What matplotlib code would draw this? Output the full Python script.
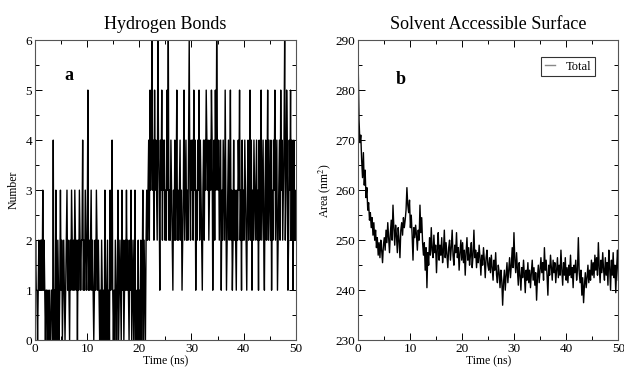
import numpy as np
import matplotlib
matplotlib.use("Agg")
import matplotlib.pyplot as plt
from matplotlib.ticker import MultipleLocator

plt.rcParams["font.family"] = ["Liberation Serif", "DejaVu Serif"]
plt.rcParams["mathtext.fontset"] = "stix"

# ── data ────────────────────────────────────────────────────────────────────

hbond_counts = [
    1, 2, 1, 1, 0, 1, 2, 1, 1, 2, 2, 1, 3, 1, 2, 1, 0, 1, 1, 0,
    1, 0, 1, 0, 0, 1, 1, 0, 4, 0, 1, 0, 3, 1, 0, 2, 1, 0, 1, 3,
    1, 2, 0, 1, 2, 1, 0, 1, 2, 3, 1, 2, 1, 0, 2, 1, 3, 2, 1, 2,
    1, 3, 2, 1, 2, 0, 2, 1, 3, 2, 1, 2, 2, 4, 1, 2, 1, 3, 2, 1,
    2, 5, 1, 2, 1, 2, 3, 1, 2, 1, 0, 1, 2, 1, 3, 2, 1, 2, 1, 0,
    1, 0, 2, 1, 0, 1, 0, 3, 1, 0, 1, 2, 0, 1, 0, 3, 1, 2, 4, 1,
    0, 1, 0, 2, 1, 0, 1, 3, 0, 1, 2, 1, 0, 3, 1, 2, 0, 1, 2, 1,
    3, 1, 2, 1, 0, 2, 1, 3, 0, 1, 2, 0, 1, 3, 0, 0, 1, 0, 2, 0,
    1, 0, 2, 0, 1, 3, 0, 2, 1, 0, 2, 3, 2, 3, 4, 2, 5, 3, 4, 6,
    3, 4, 2, 5, 3, 4, 3, 2, 6, 4, 3, 1, 4, 3, 5, 2, 4, 3, 4, 2,
    3, 2, 5, 3, 6, 2, 3, 2, 4, 3, 2, 1, 3, 2, 4, 2, 3, 5, 2, 3,
    2, 3, 4, 2, 3, 1, 2, 3, 5, 2, 3, 4, 2, 3, 2, 4, 6, 3, 2, 4,
    3, 4, 2, 5, 3, 4, 1, 3, 2, 4, 3, 5, 2, 4, 3, 2, 1, 3, 4, 2,
    4, 3, 5, 4, 3, 4, 2, 3, 4, 3, 5, 4, 1, 3, 4, 2, 5, 3, 6, 4,
    3, 4, 2, 3, 4, 1, 3, 2, 4, 3, 2, 5, 3, 1, 2, 3, 4, 2, 3, 5,
    2, 3, 1, 2, 4, 2, 3, 2, 1, 3, 2, 4, 3, 5, 2, 3, 1, 4, 2, 3,
    2, 4, 3, 2, 1, 3, 4, 2, 3, 5, 2, 4, 1, 3, 2, 4, 3, 2, 3, 4,
    2, 3, 1, 4, 2, 3, 5, 2, 3, 4, 2, 1, 3, 4, 2, 3, 5, 2, 4, 3,
    2, 4, 1, 3, 2, 4, 3, 5, 2, 3, 4, 1, 2, 3, 4, 2, 5, 3, 4, 2,
    3, 4, 6, 2, 3, 5, 4, 1, 2, 4, 3, 5, 2, 4, 3, 1, 4, 2, 3, 2,
]

sas_area = [
    285.0, 274.0, 269.5, 271.0, 266.0, 262.5, 267.5, 261.0, 264.0, 258.5, 260.5, 256.0, 257.5, 254.0, 255.5,
    252.5, 254.5, 251.0, 253.5, 250.0, 252.0, 248.5, 250.5, 247.0, 249.5, 246.5, 250.0, 248.0, 245.5, 249.0,
    250.5, 248.0, 252.0, 249.5, 253.5, 250.5, 247.5, 251.5, 254.0, 250.0, 257.0, 252.5, 249.0, 253.0, 251.0,
    247.5, 252.5, 250.0, 246.5, 252.0, 253.5, 251.0, 254.5, 252.5, 254.0, 256.0, 260.5, 257.0, 255.5, 258.0,
    252.5, 255.0, 251.0, 246.0, 252.5, 250.5, 253.0, 251.0, 248.0, 252.0, 250.0, 257.0, 251.5, 254.5, 249.5,
    247.0, 249.5, 244.0, 248.5, 240.5, 247.5, 245.0, 250.5, 247.0, 252.5, 248.0, 246.5, 251.0, 247.5, 249.0,
    243.5, 248.5, 251.5, 246.0, 249.0, 247.0, 250.5, 245.5, 248.0, 252.0, 246.5, 249.5, 247.0, 244.5, 248.5,
    250.0, 246.0, 248.5, 252.0, 247.0, 245.0, 249.0, 247.5, 251.5, 246.5, 248.5, 244.0, 247.5, 250.0, 246.0,
    249.5, 245.5, 248.0, 243.0, 247.5, 250.5, 246.0, 248.5, 245.0, 247.0, 249.5, 244.5, 247.0, 252.0, 246.5,
    248.0, 244.5, 247.5, 245.5, 249.0, 246.5, 243.0, 247.0, 245.0, 248.5, 246.0, 242.5, 246.5, 248.0, 245.0,
    244.0, 246.5, 243.5, 247.0, 244.5, 242.0, 246.0, 244.0, 247.5, 243.0, 241.5, 245.0, 243.5, 240.5, 244.0,
    242.0, 237.0, 241.5, 244.0, 240.0, 243.0, 245.5, 241.5, 244.0, 246.5, 242.5, 245.0, 248.5, 244.5, 251.5,
    246.0, 243.5, 247.5, 244.0, 241.0, 245.5, 243.0, 240.0, 244.5, 242.5, 246.0, 243.0, 239.5, 244.0, 242.0,
    245.5, 241.5, 244.0, 240.5, 243.5, 246.0, 242.0, 244.5, 241.0, 243.5, 238.0, 242.5, 245.0, 241.5, 244.0,
    246.5, 243.5, 245.5, 242.0, 248.5, 244.0, 246.0, 243.0, 239.0, 245.0, 243.0, 247.0, 244.5, 242.0, 246.0,
    243.5, 245.5, 241.5, 244.0, 246.5, 242.5, 245.0, 243.0, 248.0, 244.0, 241.0, 245.5, 243.0, 246.5, 242.0,
    244.5, 241.5, 245.0, 243.0, 247.0, 242.5, 244.5, 240.5, 245.0, 243.5, 246.0, 242.0, 244.0, 250.5, 243.5,
    241.5, 244.0, 239.0, 242.5, 237.5, 241.0, 243.5, 240.5, 242.5, 245.0, 241.5, 244.0, 242.0, 246.0, 243.0,
    245.5, 242.5, 247.0, 244.0, 246.5, 243.0, 249.5, 244.5, 241.5, 246.0, 243.5, 247.5, 244.0, 242.0, 246.5,
    243.0, 245.5, 241.0, 248.0, 244.5, 240.0, 246.0, 243.0, 247.5, 242.5, 245.0, 239.5, 244.5, 248.0, 242.0,
]

T_END = 50.0
hbond_time = np.linspace(0, T_END, len(hbond_counts))
sas_time = np.linspace(0, T_END, len(sas_area))


def _style_axes(ax, ymajor, yminor):
    ax.xaxis.set_major_locator(MultipleLocator(10))
    ax.xaxis.set_minor_locator(MultipleLocator(5))
    ax.yaxis.set_major_locator(MultipleLocator(ymajor))
    ax.yaxis.set_minor_locator(MultipleLocator(yminor))
    ax.tick_params(which="both", direction="in", top=True, right=True,
                   labelsize=9.5, pad=2)
    ax.tick_params(which="major", length=5, width=0.7)
    ax.tick_params(which="minor", length=3, width=0.7)
    for sp in ax.spines.values():
        sp.set_linewidth(0.8)
        sp.set_color("#555555")


fig = plt.figure(figsize=(6.24, 3.71), dpi=100)
ax1 = fig.add_axes([0.056, 0.083, 0.418, 0.809])
ax2 = fig.add_axes([0.574, 0.083, 0.417, 0.809])

# ── panel a: hydrogen bonds ─────────────────────────────────────────────────
ax1.plot(hbond_time, hbond_counts, color="black", linewidth=1.0)
ax1.set_xlim(0, 50)
ax1.set_ylim(0, 6)
_style_axes(ax1, 1, 0.5)
ax1.set_title("Hydrogen Bonds", fontsize=13, pad=8)
ax1.set_xlabel("Time (ns)", fontsize=8.5, labelpad=0)
ax1.set_ylabel("Number", fontsize=8.5, labelpad=4)
ax1.text(5.7, 5.2, "a", fontsize=13, fontweight="bold")

# ── panel b: solvent accessible surface ─────────────────────────────────────
ax2.plot(sas_time, sas_area, color="black", linewidth=1.0, label="Total")
ax2.set_xlim(0, 50)
ax2.set_ylim(230, 290)
_style_axes(ax2, 10, 5)
ax2.set_title("Solvent Accessible Surface", fontsize=13, pad=8)
ax2.set_xlabel("Time (ns)", fontsize=8.5, labelpad=0)
ax2.set_ylabel("Area (nm$^2$)", fontsize=8.5, labelpad=2)
ax2.text(7.2, 281.2, "b", fontsize=13, fontweight="bold")
leg = ax2.legend(loc="upper right", fontsize=9, frameon=True, fancybox=False,
                 handlelength=0.8, handletextpad=0.9, borderpad=0.3,
                 bbox_to_anchor=(0.935, 0.965))
leg.get_frame().set_edgecolor("black")
leg.get_frame().set_linewidth(0.8)
leg.get_lines()[0].set_color("#888888")

fig.savefig("out.png", dpi=100)
